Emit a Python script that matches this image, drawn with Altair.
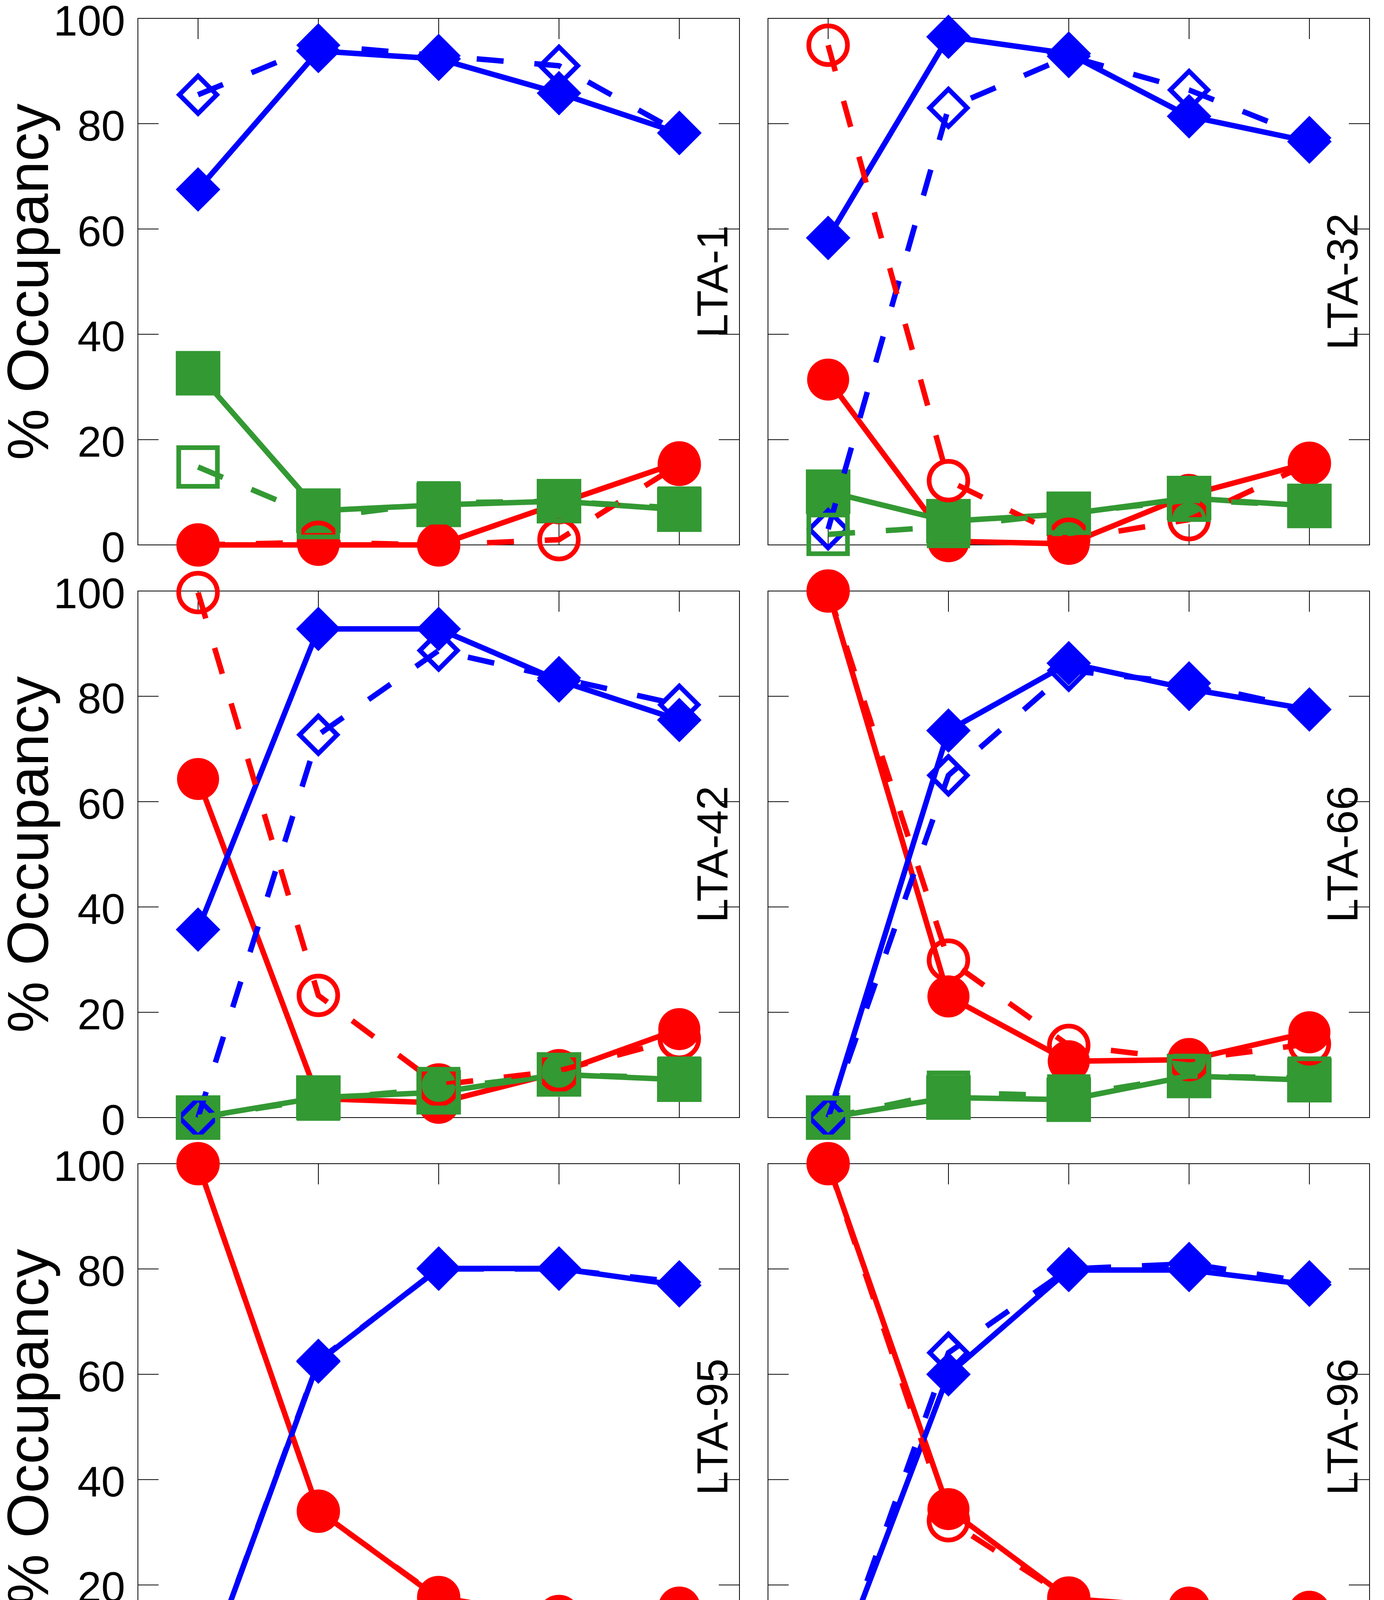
import altair as alt
import pandas as pd

FONT = "Liberation Sans"

# ---- categories and tick labels ----
CATS = ["1m", "q1", "q2", "q3", "sat"]
LABEL_MAIN = ["1 m.", "¼θ", "½θ", "¾θ", "θ"]
LABEL_SUB = ["", "sat", "sat", "sat", "sat"]
Y_TICKS = [0, 20, 40, 60, 80, 100]
INNER_Y_TICKS = [20, 40, 60, 80]
PANELS = ["LTA-1", "LTA-32", "LTA-42", "LTA-66", "LTA-95", "LTA-96"]

# ---- series values (% occupancy) ----
BLUE_SOLID = {
    "LTA-1": [67.5, 93.8, 92.3, 85.8, 78.2],
    "LTA-32": [58.3, 96.5, 93.3, 81.4, 76.6],
    "LTA-42": [35.7, 92.8, 92.8, 83.0, 75.5],
    "LTA-66": [0.0, 73.5, 86.3, 81.4, 77.5],
    "LTA-95": [0.0, 62.4, 80.1, 80.1, 76.9],
    "LTA-96": [0.0, 60.0, 79.8, 79.8, 77.0],
}
BLUE_DASHED = {
    "LTA-1": [85.5, 94.9, 92.9, 91.0, 78.3],
    "LTA-32": [3.0, 83.0, 92.8, 86.4, 77.3],
    "LTA-42": [0.0, 72.7, 88.7, 83.5, 78.4],
    "LTA-66": [0.0, 65.0, 84.9, 82.5, 77.5],
    "LTA-95": [0.0, 62.6, 80.0, 80.0, 77.5],
    "LTA-96": [0.0, 64.1, 80.0, 81.0, 77.5],
}
RED_SOLID = {
    "LTA-1": [0.0, 0.0, 0.0, 7.9, 15.7],
    "LTA-32": [31.4, 0.7, 0.2, 9.5, 15.6],
    "LTA-42": [64.3, 3.6, 2.8, 8.6, 16.8],
    "LTA-66": [100.0, 23.0, 10.7, 11.0, 16.2],
    "LTA-95": [100.0, 34.1, 17.4, 14.0, 15.7],
    "LTA-96": [100.0, 34.4, 17.4, 15.7, 14.9],
}
RED_DASHED = {
    "LTA-1": [0.0, 0.5, 0.0, 1.0, 15.3],
    "LTA-32": [94.9, 12.2, 1.1, 4.8, 15.5],
    "LTA-42": [99.7, 23.2, 6.2, 8.9, 15.0],
    "LTA-66": [100.0, 29.9, 13.7, 11.0, 14.0],
    "LTA-95": [100.0, 34.0, 17.6, 14.0, 15.4],
    "LTA-96": [100.0, 32.2, 17.5, 12.3, 14.0],
}
GREEN_SOLID = {
    "LTA-1": [32.6, 6.5, 7.6, 8.3, 6.7],
    "LTA-32": [10.1, 4.5, 5.9, 8.9, 7.4],
    "LTA-42": [0.0, 3.8, 4.8, 8.2, 7.2],
    "LTA-66": [0.0, 3.8, 3.4, 7.9, 7.1],
    "LTA-95": [0.0, 3.6, 2.3, 6.0, 7.6],
    "LTA-96": [0.0, 4.7, 3.0, 5.8, 8.0],
}
GREEN_DASHED = {
    "LTA-1": [14.8, 5.2, 8.0, 8.3, 7.0],
    "LTA-32": [2.0, 3.5, 6.0, 8.5, 7.5],
    "LTA-42": [0.0, 3.5, 5.5, 8.2, 7.5],
    "LTA-66": [0.0, 4.8, 4.1, 7.9, 7.5],
    "LTA-95": [0.0, 3.6, 2.5, 6.4, 7.8],
    "LTA-96": [0.0, 5.1, 3.0, 5.4, 8.0],
}

BLUE = "#0000ff"
RED = "#ff0000"
GREEN = "#339933"

# drawing order: solid series first, then dashed ones
# (key, values, colour, dashed, shape, filled, symbol size = bounding-box area)
SERIES = [
    ("RS", RED_SOLID, RED, False, "circle", True, 11600),
    ("BS", BLUE_SOLID, BLUE, False, "diamond", True, 13000),
    ("GS", GREEN_SOLID, GREEN, False, "square", True, 13000),
    ("BD", BLUE_DASHED, BLUE, True, "diamond", False, 9200),
    ("RD", RED_DASHED, RED, True, "circle", False, 9800),
    ("GD", GREEN_DASHED, GREEN, True, "square", False, 9800),
]

W = 1540
H = 1348
TICK = 53
LINE_W = 14
OPEN_W = 12
DASH = [69, 79]


def make_panel(name, row, col):
    recs = []
    for key, src, *_ in SERIES:
        for c, v in zip(CATS, src[name]):
            recs.append({"cat": c, "value": v, "series": key})
    df = pd.DataFrame(recs)

    xs = alt.Scale(type="point", domain=CATS, padding=0.5)
    ys = alt.Scale(domain=[0, 100], nice=False, zero=False)

    if row == 2:
        x_axis = alt.Axis(labels=False, ticks=False, tickSize=0, domain=False, grid=False,
                          title="Loading", titleFont=FONT, titleFontSize=150,
                          titleFontWeight="normal", titleColor="black", titleLimit=2000,
                          titleBaseline="alphabetic", titlePadding=370)
    else:
        x_axis = None
    if col == 0:
        y_axis = alt.Axis(values=Y_TICKS, ticks=False, tickSize=0, domain=False, grid=False,
                          labelFont=FONT, labelFontSize=110, labelColor="black",
                          labelLimit=1000, labelPadding=33, labelOffset=10,
                          title="% Occupancy", titleFont=FONT, titleLimit=3000,
                          titleFontSize=148, titleFontWeight="normal", titleColor="black",
                          titlePadding=0)
    else:
        y_axis = None

    X = alt.X("cat:N", scale=xs, axis=x_axis)
    Y = alt.Y("value:Q", scale=ys, axis=y_axis)

    layers = []
    # inward ticks (mirror ticks on all four sides)
    ytick_df = pd.DataFrame({"value": INNER_Y_TICKS})
    yt = alt.Chart(ytick_df).mark_rule(color="black", strokeWidth=2)
    layers.append(yt.encode(y=Y, x=alt.value(0), x2=alt.value(TICK)))
    layers.append(yt.encode(y=Y, x=alt.value(W - TICK), x2=alt.value(W)))
    xtick_df = pd.DataFrame({"cat": CATS})
    xt = alt.Chart(xtick_df).mark_rule(color="black", strokeWidth=2)
    layers.append(xt.encode(x=X, y=alt.value(H - TICK), y2=alt.value(H)))
    layers.append(xt.encode(x=X, y=alt.value(0), y2=alt.value(TICK)))

    base = alt.Chart(df)
    for key, src, color, dashed, shape, filled, size in SERIES:
        sub = base.transform_filter(alt.datum.series == key)
        lk = dict(color=color, strokeWidth=LINE_W)
        if dashed:
            lk["strokeDash"] = DASH
        layers.append(sub.mark_line(**lk).encode(x=X, y=Y))
        if filled:
            pm = sub.mark_point(shape=shape, filled=True, size=size, color=color,
                                opacity=1, strokeWidth=0)
        else:
            pm = sub.mark_point(shape=shape, filled=False, size=size, color=color,
                                opacity=1, strokeWidth=OPEN_W)
        layers.append(pm.encode(x=X, y=Y))

    # panel label
    lab_df = pd.DataFrame({"label": [name]})
    layers.append(
        alt.Chart(lab_df).mark_text(angle=270, align="center", baseline="alphabetic",
                                    fontSize=112, font=FONT, color="black")
        .encode(text="label:N", x=alt.value(W - 31), y=alt.value(H / 2))
    )

    # x tick labels with subscripts (bottom row only)
    if row == 2:
        tl = alt.Chart(pd.DataFrame({"cat": CATS, "main": LABEL_MAIN, "sub": LABEL_SUB}))
        yv_main = alt.value(H + 180)
        yv_sub = alt.value(H + 206)
        layers.append(
            tl.transform_filter(alt.datum.cat == "1m")
            .mark_text(align="center", baseline="alphabetic", fontSize=110, font=FONT, color="black")
            .encode(x=X, y=yv_main, text="main:N"))
        frac = tl.transform_filter(alt.FieldOneOfPredicate(field="cat", oneOf=["q1", "q2", "q3"]))
        layers.append(
            frac.mark_text(align="right", baseline="alphabetic", dx=15, fontSize=110, font=FONT, color="black")
            .encode(x=X, y=yv_main, text="main:N"))
        layers.append(
            frac.mark_text(align="left", baseline="alphabetic", dx=22, fontSize=95, font=FONT, color="black")
            .encode(x=X, y=yv_sub, text="sub:N"))
        th = tl.transform_filter(alt.datum.cat == "sat")
        layers.append(
            th.mark_text(align="right", baseline="alphabetic", dx=-30, fontSize=110, font=FONT, color="black")
            .encode(x=X, y=yv_main, text="main:N"))
        layers.append(
            th.mark_text(align="left", baseline="alphabetic", dx=-21, fontSize=95, font=FONT, color="black")
            .encode(x=X, y=yv_sub, text="sub:N"))

    return alt.layer(*layers).properties(width=W, height=H)


panels = [make_panel(PANELS[i], i // 2, i % 2) for i in range(6)]

chart = alt.concat(*panels, columns=2, spacing={"row": 118, "column": 73},
                   bounds="flush").properties(
    padding={"top": -7, "bottom": 0, "left": -5, "right": 0}, background="white"
).configure_view(stroke="black", strokeWidth=2)

chart.save("out.html", embed_options={"renderer": "svg", "actions": False})
